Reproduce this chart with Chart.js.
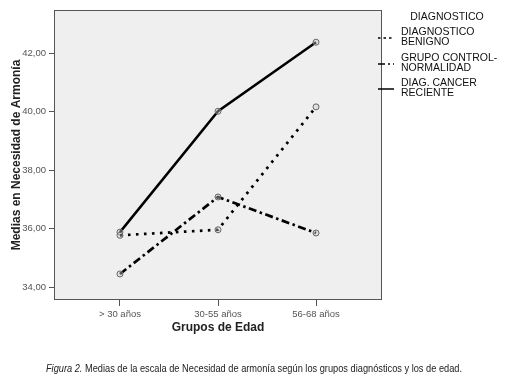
<!DOCTYPE html>
<html>
<head>
<meta charset="utf-8">
<script src="https://cdn.jsdelivr.net/npm/chart.js@4"></script>
<style>
  html, body { margin: 0; padding: 0; background: #fff; }
  #wrap { position: relative; width: 508px; height: 383px; }
  #caption {
    position: absolute; left: 0; top: 362px; width: 508px; text-align: center;
    font-family: "Liberation Sans", Arial, sans-serif;
    font-size: 11px; color: #222; white-space: nowrap;
    transform: scaleX(0.84); transform-origin: 254px 0;
  }
</style>
</head>
<body>
<div id="wrap">
  <canvas id="chart" width="508" height="383"></canvas>
  <div id="caption"><i>Figura 2.</i> Medias de la escala de Necesidad de armonía según los grupos diagnósticos y los de edad.</div>
</div>
<script>
const ageGroups = ['> 30 años', '30-55 años', '56-68 años'];
const benigno = [35.77, 35.96, 40.16];
const control = [34.45, 37.08, 35.85];
const cancer = [35.88, 40.01, 42.37];
const yTickValues = [34, 36, 38, 40, 42];

const legendItems = [
  { lines: ['DIAGNOSTICO', 'BENIGNO'], dash: [2.5, 3] },
  { lines: ['GRUPO CONTROL-', 'NORMALIDAD'], dash: [7, 3, 2, 3] },
  { lines: ['DIAG. CANCER', 'RECIENTE'], dash: [] }
];

const toPoints = (vals) => vals.map((v, i) => ({ x: i, y: v }));

// plot background + frame + legend
const frame = {
  id: 'frame',
  beforeDatasetsDraw(chart) {
    const { ctx, chartArea: a } = chart;
    ctx.save();
    ctx.fillStyle = '#efefef';
    ctx.fillRect(a.left, a.top, a.right - a.left, a.bottom - a.top);
    ctx.restore();
  },
  afterDraw(chart) {
    const { ctx, chartArea: a } = chart;
    ctx.save();
    ctx.strokeStyle = '#555';
    ctx.lineWidth = 1;
    ctx.strokeRect(a.left + 0.5, a.top + 0.5, a.right - a.left - 1, a.bottom - a.top - 1);

    ctx.fillStyle = '#111';
    ctx.font = '10.5px "Liberation Sans", Arial, sans-serif';
    ctx.textBaseline = 'middle';
    ctx.textAlign = 'center';
    ctx.fillText('DIAGNOSTICO', 447, 17);
    ctx.textAlign = 'left';
    const tops = [32, 58, 83];
    legendItems.forEach((it, i) => {
      const y0 = tops[i];
      ctx.fillText(it.lines[0], 401, y0);
      ctx.fillText(it.lines[1], 401, y0 + 10.5);
      ctx.beginPath();
      ctx.setLineDash(it.dash);
      ctx.strokeStyle = '#000';
      ctx.lineWidth = 1.5;
      ctx.moveTo(378, y0 + 6);
      ctx.lineTo(394, y0 + 6);
      ctx.stroke();
    });
    ctx.restore();
  }
};

const pointStyle = {
  pointRadius: 3,
  pointBorderColor: '#666',
  pointBackgroundColor: 'rgba(200,200,200,0.4)',
  pointBorderWidth: 1,
  borderColor: '#000',
  fill: false,
  tension: 0
};

new Chart(document.getElementById('chart'), {
  type: 'line',
  data: {
    datasets: [
      { label: 'DIAGNOSTICO BENIGNO', data: toPoints(benigno), borderWidth: 2.7, borderDash: [2.6, 5.4], ...pointStyle },
      { label: 'GRUPO CONTROL-NORMALIDAD', data: toPoints(control), borderWidth: 2.7, borderDash: [8, 3.5, 2.5, 3.5], ...pointStyle },
      { label: 'DIAG. CANCER RECIENTE', data: toPoints(cancer), borderWidth: 2.5, ...pointStyle }
    ]
  },
  options: {
    responsive: false,
    animation: false,
    layout: { padding: { top: 10, left: 0, right: 126, bottom: 48 } },
    plugins: { legend: { display: false }, tooltip: { enabled: false } },
    scales: {
      x: {
        type: 'linear',
        min: -0.673,
        max: 2.673,
        afterBuildTicks: (s) => { s.ticks = ageGroups.map((_, i) => ({ value: i })); },
        afterFit: (s) => { s.height = 35; },
        ticks: {
          callback: (v) => ageGroups[v],
          color: '#555',
          font: { family: '"Liberation Sans", Arial, sans-serif', size: 9.5 },
          padding: 3,
          maxRotation: 0
        },
        grid: { drawOnChartArea: false, drawTicks: true, tickLength: 6, color: '#555' },
        border: { display: false },
        title: {
          display: true,
          text: 'Grupos de Edad',
          color: '#222',
          font: { family: '"Liberation Sans", Arial, sans-serif', size: 12, weight: 'bold' },
          padding: { top: 0, bottom: 0 }
        }
      },
      y: {
        min: 33.56,
        max: 43.47,
        afterBuildTicks: (s) => { s.ticks = yTickValues.map((v) => ({ value: v })); },
        afterFit: (s) => { s.width = 54; },
        ticks: {
          callback: (v) => v.toFixed(2).replace('.', ','),
          color: '#555',
          font: { family: '"Liberation Sans", Arial, sans-serif', size: 9.5 },
          padding: 3
        },
        grid: { drawOnChartArea: false, drawTicks: true, tickLength: 5, color: '#555' },
        border: { display: false },
        title: {
          display: true,
          text: 'Medias en Necesidad de Armonía',
          color: '#222',
          font: { family: '"Liberation Sans", Arial, sans-serif', size: 12, weight: 'bold' },
          padding: { top: 9, bottom: 0 }
        }
      }
    }
  },
  plugins: [frame]
});
</script>
</body>
</html>
